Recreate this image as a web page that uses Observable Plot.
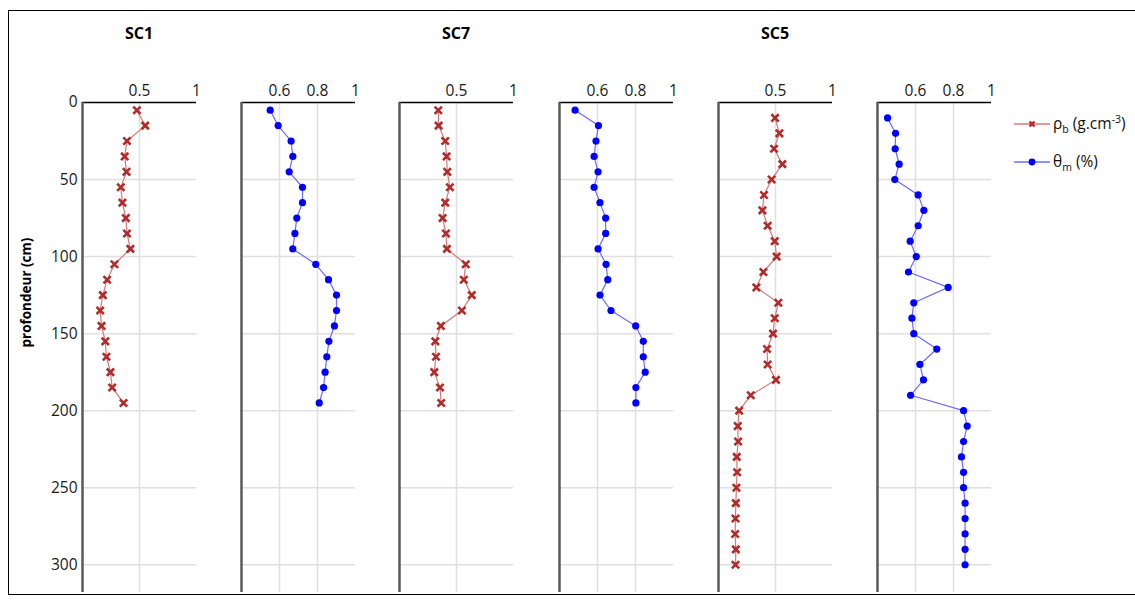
<!DOCTYPE html>
<html>
<head>
<meta charset="utf-8">
<script src="https://cdn.jsdelivr.net/npm/d3@7"></script>
<script src="https://cdn.jsdelivr.net/npm/@observablehq/plot@0.6"></script>
<style>
  html, body { margin: 0; padding: 0; background: #fff; }
  #wrap { position: relative; width: 1135px; height: 601px; overflow: hidden; font-family: "Open Sans", sans-serif; }
  #frame { position: absolute; left: 8px; top: 10px; width: 1135px; height: 585px; border: 1px solid #000; border-left-width: 1.5px; box-sizing: border-box; }
  .panel { position: absolute; top: 0; }
  .title { position: absolute; top: 22px; transform: translateX(-50%); font-weight: bold; font-size: 16px; color: #000; }
  .legend { position: absolute; left: 1014px; font-size: 15.5px; color: #111; display: flex; align-items: center; gap: 3px; white-space: nowrap; }
  .legend sub, .legend sup { font-size: 10.5px; }
</style>
</head>
<body>
<div id="wrap">
  <div id="frame"></div>
</div>
<script>
// ---- data ----
const depthShort = [5, 15, 25, 35, 45, 55, 65, 75, 85, 95, 105, 115, 125, 135, 145, 155, 165, 175, 185, 195];
const depthLong = [10, 20, 30, 40, 50, 60, 70, 80, 90, 100, 110, 120, 130, 140, 150, 160, 170, 180, 190, 200,
                   210, 220, 230, 240, 250, 260, 270, 280, 290, 300];

const sc1Rho   = [0.477, 0.55, 0.39, 0.37, 0.386, 0.336, 0.35, 0.38, 0.39, 0.42, 0.28, 0.216, 0.178, 0.155, 0.167, 0.20, 0.21, 0.245, 0.26, 0.36];
const sc1Theta = [0.551, 0.593, 0.661, 0.670, 0.651, 0.721, 0.721, 0.691, 0.681, 0.670, 0.791, 0.858, 0.900, 0.900, 0.889, 0.860, 0.849, 0.840, 0.832, 0.809];
const sc7Rho   = [0.34, 0.343, 0.401, 0.413, 0.419, 0.442, 0.401, 0.378, 0.407, 0.416, 0.581, 0.564, 0.634, 0.547, 0.363, 0.314, 0.32, 0.305, 0.355, 0.366];
const sc7Theta = [0.482, 0.605, 0.592, 0.582, 0.603, 0.582, 0.613, 0.643, 0.643, 0.603, 0.645, 0.654, 0.613, 0.671, 0.801, 0.841, 0.841, 0.851, 0.802, 0.802];
const sc5Rho   = [0.496, 0.534, 0.487, 0.560, 0.466, 0.399, 0.385, 0.431, 0.493, 0.510, 0.394, 0.332, 0.525, 0.493, 0.478, 0.426, 0.431, 0.504, 0.283, 0.181,
                  0.169, 0.172, 0.160, 0.163, 0.157, 0.152, 0.149, 0.146, 0.152, 0.149];
const sc5Theta = [0.453, 0.495, 0.493, 0.514, 0.491, 0.614, 0.644, 0.614, 0.572, 0.604, 0.563, 0.772, 0.591, 0.581, 0.591, 0.712, 0.623, 0.642, 0.574, 0.853,
                  0.872, 0.853, 0.842, 0.853, 0.853, 0.861, 0.861, 0.861, 0.861, 0.861];

const sites = ["SC1", "SC7", "SC5"];
const rhoTicks = [0.5, 1];
const thetaTicks = [0.6, 0.8, 1];
const depthTicks = [0, 50, 100, 150, 200, 250, 300];
const depthGrid = [50, 100, 150, 200, 250, 300];
const yLabel = "profondeur (cm)";

const rhoColor = "#b22a2a", rhoLine = "#d47a7a";
const thetaColor = "#0000ff", thetaLine = "#6b6bff";

const panels = [
  {values: sc1Rho,   depths: depthShort, kind: "rho",   axisX: 82,  showY: true,  title: sites[0]},
  {values: sc1Theta, depths: depthShort, kind: "theta", axisX: 241},
  {values: sc7Rho,   depths: depthShort, kind: "rho",   axisX: 399, title: sites[1]},
  {values: sc7Theta, depths: depthShort, kind: "theta", axisX: 559},
  {values: sc5Rho,   depths: depthLong,  kind: "rho",   axisX: 718, title: sites[2]},
  {values: sc5Theta, depths: depthLong,  kind: "theta", axisX: 877}
];

const wrap = document.getElementById("wrap");
const PW = 114;

for (const p of panels) {
  const data = p.values.map((v, i) => ({v, d: p.depths[i]}));
  const isRho = p.kind === "rho";
  const domain = isRho ? [0, 1] : [0.4, 1];
  const ticks = isRho ? rhoTicks : thetaTicks;
  const ml = p.showY ? 82 : 2;
  const mr = 8;
  const marks = [
    Plot.gridY(depthGrid, {stroke: "#e0e0e0", strokeOpacity: 1, strokeWidth: 1.5}),
    Plot.gridX(ticks.filter(t => t < 1), {stroke: "#e0e0e0", strokeOpacity: 1, strokeWidth: 1.5}),
    Plot.ruleY([0], {stroke: "#000", strokeWidth: 1.5}),
    Plot.ruleX([domain[0]], {stroke: "#5a5a5a", strokeWidth: 2.5}),
    Plot.axisX(ticks, {anchor: "top", tickSize: 0, tickPadding: 7, label: null, fontSize: 15.5, tickFormat: d => String(d)}),
    Plot.line(data, {x: "v", y: "d", stroke: isRho ? rhoLine : thetaLine, strokeWidth: 1.2}),
    isRho
      ? Plot.dot(data, {x: "v", y: "d", symbol: "times", r: 3.4, stroke: rhoColor, strokeWidth: 2.6})
      : Plot.dot(data, {x: "v", y: "d", r: 3.6, fill: thetaColor, stroke: "none"})
  ];
  if (p.showY) {
    marks.push(Plot.axisY(depthTicks, {anchor: "left", tickSize: 0, tickPadding: 5, label: null, fontSize: 15.5}));
    marks.push(Plot.text([yLabel], {frameAnchor: "left", rotate: -90, dx: -56, fontWeight: "bold", fontSize: 13.5, fill: "#000"}));
  } else {
    marks.push(Plot.axisY({ticks: [], label: null, tickSize: 0}));
  }
  const chart = Plot.plot({
    width: ml + PW + mr,
    height: 596,
    marginLeft: ml,
    marginRight: mr,
    marginTop: 102,
    marginBottom: 4,
    x: {domain},
    y: {domain: [0, 318], reverse: true},
    style: {fontFamily: "'Open Sans', sans-serif", fontSize: "15.5px", color: "#1a1a1a", background: "transparent", overflow: "visible"},
    marks
  });
  chart.classList.add("panel");
  chart.style.left = (p.axisX - ml) + "px";
  wrap.appendChild(chart);

  if (p.title) {
    const t = document.createElement("div");
    t.className = "title";
    t.textContent = p.title;
    t.style.left = (p.axisX + PW / 2) + "px";
    wrap.appendChild(t);
  }
}

// legend
const leg1 = document.createElement("div");
leg1.className = "legend";
leg1.style.top = "112px";
leg1.innerHTML = `<svg width="36" height="14"><line x1="0" x2="36" y1="7" y2="7" stroke="${rhoLine}" stroke-width="1.5"/><path d="M15.5,4.5L20.5,9.5M20.5,4.5L15.5,9.5" stroke="${rhoColor}" stroke-width="2.4"/></svg><span>ρ<sub>b</sub> (g.cm<sup>-3</sup>)</span>`;
wrap.appendChild(leg1);
const leg2 = document.createElement("div");
leg2.className = "legend";
leg2.style.top = "150px";
leg2.innerHTML = `<svg width="36" height="14"><line x1="0" x2="36" y1="7" y2="7" stroke="${thetaLine}" stroke-width="1.5"/><circle cx="18" cy="7" r="3.4" fill="${thetaColor}"/></svg><span>θ<sub>m</sub> (%)</span>`;
wrap.appendChild(leg2);
</script>
</body>
</html>
